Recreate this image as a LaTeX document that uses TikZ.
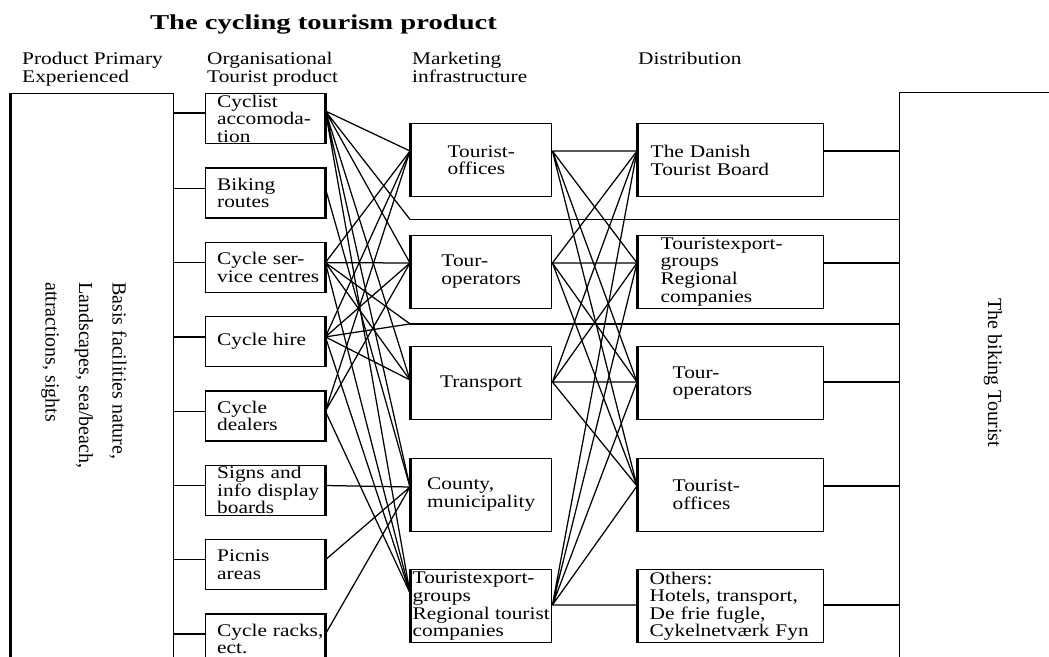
\documentclass[tikz,border=0pt]{standalone}
\usepackage{fontspec}
\setmainfont{Liberation Serif}[FakeStretch=1.2]
\newfontfamily\titulofont{Liberation Serif}[FakeStretch=1.35]
\newfontfamily\rotfont{Liberation Serif}
\usetikzlibrary{calc,positioning}

\tikzset{
  caja/.style={draw,line width=1.4pt,inner sep=0pt,anchor=north west},
  lado/.style={line width=3pt},
  org/.style={caja,minimum width=119pt,minimum height=50pt,text width=96pt,align=left,
    append after command={(\tikzlastnode.north east) edge[lado] (\tikzlastnode.south east)}},
  mkt/.style={caja,minimum width=141pt,minimum height=73pt,align=left,
    append after command={(\tikzlastnode.north west) edge[lado] (\tikzlastnode.south west)}},
  dist/.style={caja,minimum width=186pt,minimum height=73pt,align=left,
    append after command={(\tikzlastnode.north west) edge[lado] (\tikzlastnode.south west)}},
  cab/.style={anchor=north west,inner sep=0pt,align=left},
  enlace/.style={line width=1.25pt}
}

\begin{document}
\begin{tikzpicture}[x=1pt,y=-1pt,font=\fontsize{17.8}{17.6}\selectfont]
\useasboundingbox (0,0) rectangle (1049,656);
\clip (0,0) rectangle (1049,656);

% Título
\node[font=\titulofont\fontsize{21.2}{24}\selectfont\bfseries] (titulo)
    at (323.5,24) {The cycling tourism product};

% Cabeceras
\node[cab] (h1) at (22,52)  {Product Primary\\Experienced};
\node[cab] (h2) at (207,52) {Organisational\\Tourist product};
\node[cab] (h3) at (412,52) {Marketing\\infrastructure};
\node[cab] (h4) at (638,52) {Distribution};

% Cajas laterales
\node[caja,minimum width=163pt,minimum height=620pt,
      append after command={(\tikzlastnode.north west) edge[lado] (\tikzlastnode.south west)}]
    (base) at (10,93) {};
\node[caja,minimum width=200pt,minimum height=620pt] (tour) at (899,92) {};

\node[rotate=-90,anchor=west,align=left,inner sep=0pt,
      font=\rotfont\fontsize{20}{33.5}\selectfont] (basetxt) at (84,282)
    {Basis facilities nature,\\Landscapes, sea/beach,\\attractions, sights};
\node[rotate=-90,inner sep=0pt,font=\rotfont\fontsize{20}{24}\selectfont] (tourtxt)
    at (993,373) {The biking Tourist};

% Producto organizacional
\node[org] (c1) at (205,93)    {Cyclist\\accomoda-\\tion};
\node[org] (c2) at (205,167.3) {Biking\\routes};
\node[org] (c3) at (205,241.6) {Cycle ser-\\\mbox{vice centres}};
\node[org] (c4) at (205,315.9) {Cycle hire};
\node[org] (c5) at (205,390.2) {Cycle\\dealers};
\node[org] (c6) at (205,464.5) {Signs and\\\mbox{info display}\\boards};
\node[org] (c7) at (205,538.8) {Picnis\\areas};
\node[org] (c8) at (205,613.1) {\mbox{Cycle racks,}\\ect.};

% Infraestructura de marketing
\node[mkt] (m1) at (410,123)   {Tourist-\\offices};
\node[mkt] (m2) at (410,234.5) {Tour-\\operators};
\node[mkt] (m3) at (410,346)   {Transport};
\node[mkt] (m4) at (410,457.5) {County,\\municipality};
\node[mkt] (m5) at (410,569)   {Touristexport-\\groups\\Regional tourist\\companies};

% Distribución
\node[dist,text width=160pt] (d1) at (637,123)   {The Danish\\Tourist Board};
\node[dist,text width=140pt] (d2) at (637,234.5) {Touristexport-\\groups\\Regional\\companies};
\node[dist,text width=116pt] (d3) at (637,346)   {Tour-\\operators};
\node[dist,text width=116pt] (d4) at (637,457.5) {Tourist-\\offices};
\node[dist,text width=162pt] (d5) at (637,569)   {Others:\\Hotels, transport,\\De frie fugle,\\Cykelnetværk Fyn};

% Puntos de enlace
\coordinate (c1i) at ($(c1.north west)+(0,20)$); \coordinate (c1d) at ($(c1.north east)+(0,18)$);
\coordinate (c2i) at ($(c2.north west)+(0,21)$); \coordinate (c2d) at ($(c2.north east)+(0,21)$);
\coordinate (c3i) at ($(c3.north west)+(0,21)$); \coordinate (c3d) at ($(c3.north east)+(0,21)$);
\coordinate (c4i) at ($(c4.north west)+(0,21)$); \coordinate (c4d) at ($(c4.north east)+(0,21)$);
\coordinate (c5i) at ($(c5.north west)+(0,21)$); \coordinate (c5d) at ($(c5.north east)+(0,21)$);
\coordinate (c6i) at ($(c6.north west)+(0,21)$); \coordinate (c6d) at ($(c6.north east)+(0,21)$);
\coordinate (c7i) at ($(c7.north west)+(0,21)$); \coordinate (c7d) at ($(c7.north east)+(0,21)$);
\coordinate (c8i) at ($(c8.north west)+(0,21)$); \coordinate (c8d) at ($(c8.north east)+(0,21)$);

\coordinate (m1i) at ($(m1.north west)+(0,28)$); \coordinate (m1d) at ($(m1.north east)+(0,28)$);
\coordinate (m2i) at ($(m2.north west)+(0,28.5)$); \coordinate (m2d) at ($(m2.north east)+(0,28.5)$);
\coordinate (m3i) at ($(m3.north west)+(0,34)$); \coordinate (m3d) at ($(m3.north east)+(0,36)$);
\coordinate (m4i) at ($(m4.north west)+(0,29.5)$);
\coordinate (m5i) at ($(m5.north west)+(0,24)$); \coordinate (m5d) at ($(m5.north east)+(0,36)$);

\coordinate (d1i) at ($(d1.north west)+(0,28)$); \coordinate (d1d) at ($(d1.north east)+(0,28)$);
\coordinate (d2i) at ($(d2.north west)+(0,28.5)$); \coordinate (d2d) at ($(d2.north east)+(0,28.5)$);
\coordinate (d3i) at ($(d3.north west)+(0,36)$); \coordinate (d3d) at ($(d3.north east)+(0,36)$);
\coordinate (d4i) at ($(d4.north west)+(0,28.5)$); \coordinate (d4d) at ($(d4.north east)+(0,28.5)$);
\coordinate (d5i) at ($(d5.north west)+(0,36)$); \coordinate (d5d) at ($(d5.north east)+(0,36)$);

% Enlaces directos al turista
\coordinate (b1) at ($(m1.south west)+(0,22)$);
\coordinate (b2) at ($(m2.south west)+(0,15)$);

% Base -> producto
\draw[enlace] (c1i -| base.east) -- (c1i) (c2i -| base.east) -- (c2i)
              (c3i -| base.east) -- (c3i) (c4i -| base.east) -- (c4i)
              (c5i -| base.east) -- (c5i) (c6i -| base.east) -- (c6i)
              (c7i -| base.east) -- (c7i) (c8i -| base.east) -- (c8i);

% Producto -> marketing
\draw[enlace] (c1d) -- (m1i) (c1d) -- (b1) (c1d) -- (m2i) (c1d) -- (m3i) (c1d) -- (m4i) (c1d) -- (m5i);
\draw[enlace] (c2d) -- (m4i);
\draw[enlace] (c3d) -- (m1i) (c3d) -- (m2i) (c3d) -- (b2) (c3d) -- (m3i) (c3d) -- (m5i);
\draw[enlace] (c4d) -- (m1i) (c4d) -- (m2i) (c4d) -- (b2) (c4d) -- (m3i) (c4d) -- (m5i);
\draw[enlace] (c5d) -- (m1i) (c5d) -- (m2i) (c5d) -- (m5i);
\draw[enlace] (c6d) -- (m4i) (c7d) -- (m4i) (c8d) -- (m4i);

% Marketing -> distribución
\draw[enlace] (m1d) -- (d1i) (m1d) -- (d2i) (m1d) -- (d3i) (m1d) -- (d4i);
\draw[enlace] (m2d) -- (d1i) (m2d) -- (d2i) (m2d) -- (d3i) (m2d) -- (d4i);
\draw[enlace] (m3d) -- (d1i) (m3d) -- (d2i) (m3d) -- (d3i) (m3d) -- (d4i);
\draw[enlace] (m5d) -- (d1i) (m5d) -- (d2i) (m5d) -- (d3i) (m5d) -- (d4i) (m5d) -- (d5i);

% Distribución -> turista
\draw[enlace] (d1d) -- (d1d -| tour.west) (d2d) -- (d2d -| tour.west)
              (d3d) -- (d3d -| tour.west) (d4d) -- (d4d -| tour.west)
              (d5d) -- (d5d -| tour.west);
\draw[enlace] (b1) -- (b1 -| tour.west) (b2) -- (b2 -| tour.west);

\end{tikzpicture}
\end{document}
